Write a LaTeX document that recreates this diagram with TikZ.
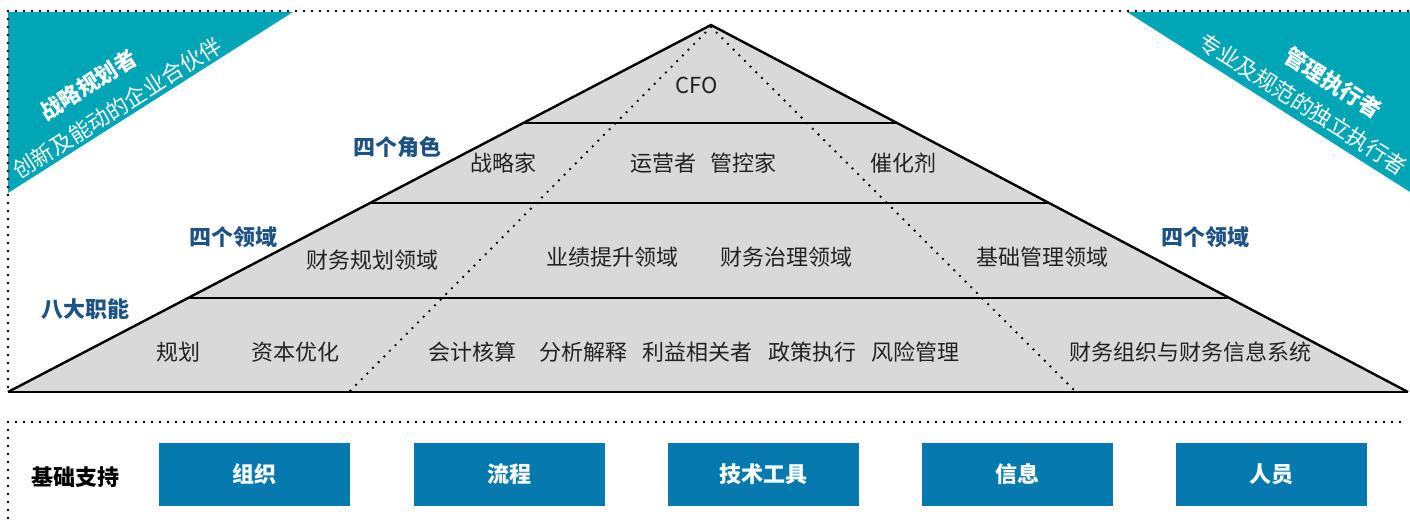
\documentclass[tikz,border=0pt]{standalone}
\usepackage{fontspec}
\setmainfont{Noto Sans CJK SC}
\usetikzlibrary{calc}
\definecolor{cornerteal}{RGB}{0,166,182}
\definecolor{pyrgray}{RGB}{217,217,217}
\definecolor{tagblue}{RGB}{28,82,132}
\definecolor{boxblue}{RGB}{6,122,174}
\definecolor{textgray}{RGB}{34,34,34}
\tikzset{
  dotline/.style={line width=1.3pt, dash pattern=on 0pt off 4pt, line cap=round},
  layer/.style={font=\fontsize{11}{13}\selectfont, text=textgray, inner sep=0pt},
  tag/.style={font=\fontsize{11}{13}\selectfont\bfseries, text=tagblue, inner sep=0pt},
  corner/.style={font=\fontsize{11}{13}\selectfont, text=white, inner sep=0pt},
  pillar/.style={fill=boxblue, minimum width=95.5pt, minimum height=31.5pt, inner sep=0pt,
    text=white, font=\fontsize{11}{13}\selectfont\bfseries}
}
\begin{document}
\begin{tikzpicture}[x=0.5pt,y=-0.5pt]
  \useasboundingbox (0,0) rectangle (1410,524);
  % corner triangles
  \fill[cornerteal] (8,12) -- (293,12) -- (8,193) -- cycle;
  \fill[cornerteal] (1127,12) -- (1410,12) -- (1410,192) -- cycle;
  \node[corner, font=\fontsize{11}{13}\selectfont\bfseries, rotate=32.4] (planner) at (88,85) {战略规划者};
  \node[corner, rotate=32.4] (plannersub) at (117,108) {创新及能动的企业合伙伴};
  \node[corner, font=\fontsize{11}{13}\selectfont\bfseries, rotate=-32.5] (executor) at (1333,83) {管理执行者};
  \node[corner, rotate=-32.5] (executorsub) at (1303,104) {专业及规范的独立执行者};
  % frames
  \draw[dotline] (8,11) -- (1410,11) (8,11) -- (8,392);
  \draw[dotline] (8,422) -- (1406,422) (8,422) -- (8,524);
  % pyramid
  \coordinate (apex) at (711,25);
  \coordinate (baseL) at (8,392);
  \coordinate (baseR) at (1408,392);
  \fill[pyrgray] (apex) -- (baseL) -- (baseR) -- cycle;
  \draw[dotline] (711,27) -- (348,393) (711,27) -- (1077,393);
  \draw[line width=1.2pt, line join=miter] (baseL) -- (apex) -- (baseR);
  \draw[line width=1.2pt] (baseL) -- (baseR);
  \foreach \t in {0.267,0.485,0.744}
    \draw[line width=1.2pt] ($(apex)!\t!(baseL)$) -- ($(apex)!\t!(baseR)$);
  % layer texts
  \node[layer] (cfo) at (697,85) {CFO};
  \node[layer] (strat) at (503,163) {战略家};
  \node[layer] (oper) at (663,163) {运营者};
  \node[layer] (ctrl) at (743,163) {管控家};
  \node[layer] (cata) at (903,163) {催化剂};
  \node[layer] (planarea) at (372,260) {财务规划领域};
  \node[layer] (perfarea) at (612,257) {业绩提升领域};
  \node[layer] (govarea) at (786,257) {财务治理领域};
  \node[layer] (basearea) at (1042,257) {基础管理领域};
  \node[layer] (fplan) at (178,352) {规划};
  \node[layer] (fcap) at (295,352) {资本优化};
  \node[layer] (facc) at (472,352) {会计核算};
  \node[layer] (fana) at (583,352) {分析解释};
  \node[layer] (fstake) at (697,352) {利益相关者};
  \node[layer] (fpol) at (812,352) {政策执行};
  \node[layer] (frisk) at (915,352) {风险管理};
  \node[layer] (forg) at (1190,352) {财务组织与财务信息系统};
  % side tags
  \node[tag] (roles) at (397,147) {四个角色};
  \node[tag] (areasL) at (233,237) {四个领域};
  \node[tag] (areasR) at (1205,237) {四个领域};
  \node[tag] (funcs) at (85,309) {八大职能};
  % support row
  \node[tag, text=black] (support) at (76,477) {基础支持};
  \node[pillar] (org) at (254.5,474.5) {组织};
  \node[pillar] (proc) at (509.5,474.5) {流程};
  \node[pillar] (tools) at (763.5,474.5) {技术工具};
  \node[pillar] (info) at (1017.5,474.5) {信息};
  \node[pillar] (staff) at (1271.5,474.5) {人员};
\end{tikzpicture}
\end{document}
